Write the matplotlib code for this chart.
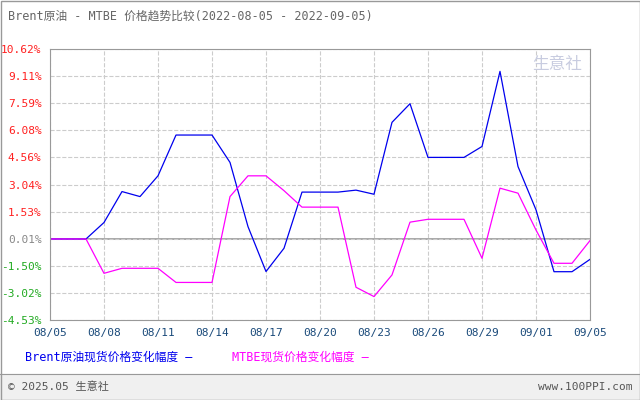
import matplotlib
matplotlib.use("Agg")
import matplotlib.pyplot as plt

plt.rcParams['font.family'] = ['DejaVu Sans Mono', 'Noto Sans CJK SC']

dates = ["08/05", "08/08", "08/11", "08/14", "08/17", "08/20", "08/23", "08/26", "08/29", "09/01", "09/05"]
brent = [0, 0, 0, 0.92, 2.65, 2.37, 3.53, 5.81, 5.81, 5.81, 4.28, 0.69, -1.82, -0.52, 2.62,
         2.62, 2.62, 2.73, 2.50, 6.52, 7.56, 4.56, 4.56, 4.56, 5.17, 9.37, 4.05, 1.63, -1.83, -1.83, -1.14]
mtbe = [0, 0, 0, -1.92, -1.64, -1.64, -1.64, -2.43, -2.43, -2.43, 2.37, 3.53, 3.53, 2.70, 1.78,
        1.78, 1.78, -2.70, -3.22, -2.01, 0.94, 1.10, 1.10, 1.10, -1.08, 2.84, 2.56, 0.50, -1.36, -1.36, -0.09]
yticks = [10.62, 9.11, 7.59, 6.08, 4.56, 3.04, 1.53, 0.01, -1.50, -3.02, -4.53]

fig = plt.figure(figsize=(6.4, 4.0), dpi=100)
ax = fig.add_axes([50/640, 1-320/400, 540/640, 271/400])
x = list(range(len(brent)))
ax.plot(x, brent, color='#0000ee', lw=0.9)
ax.plot(x, mtbe, color='#ff00ff', lw=0.9)
ax.axhline(0.01, color='#999999', lw=1.2, zorder=1)
ax.set_xlim(0, 30)
ax.set_ylim(-4.53, 10.62)
ax.set_xticks(range(0, 31, 3))
ax.set_xticklabels(dates, color='#1a4a7a', fontsize=8)
ax.set_yticks(yticks)
ax.set_yticklabels([f"{v:.2f}%" for v in yticks], fontsize=8)
for lab, v in zip(ax.get_yticklabels(), yticks):
    lab.set_color('#ff2020' if v > 0.5 else ('#888888' if v > 0 else '#22aa22'))
ax.tick_params(length=0, pad=6)
ax.grid(True, color='#cccccc', ls='--', lw=0.8)
for s in ax.spines.values():
    s.set_color('#999999')

fig.text(8/640, 1-16/400, "Brent原油 - MTBE 价格趋势比较(2022-08-05 - 2022-09-05)", color='#666666', fontsize=8.5, va='center')
fig.text(25/640, 1-357/400, "Brent原油现货价格变化幅度 —", color='#0000ee', fontsize=8.5, va='center')
fig.text(232/640, 1-357/400, "MTBE现货价格变化幅度 —", color='#ff00ff', fontsize=8.5, va='center')
fig.patches.append(plt.Rectangle((0, 0), 1, 26/400, transform=fig.transFigure, color='#f0f0f0', zorder=-1))
fig.add_artist(plt.Line2D([0, 1], [26/400, 26/400], color='#999999', lw=0.8))
fig.text(8/640, 13/400, "© 2025.05 生意社", color='#555555', fontsize=8, va='center')
fig.text(632/640, 13/400, "www.100PPI.com", color='#555555', fontsize=8, va='center', ha='right')
fig.text(532/640, 1-64/400, "生意社", color='#c8cce0', fontsize=12, va='center')
fig.add_artist(plt.Rectangle((0.5/640, 0.5/400), 639/640, 399/400, fill=False, ec='#999999', lw=1, transform=fig.transFigure))
fig.savefig("out.png", dpi=100)
